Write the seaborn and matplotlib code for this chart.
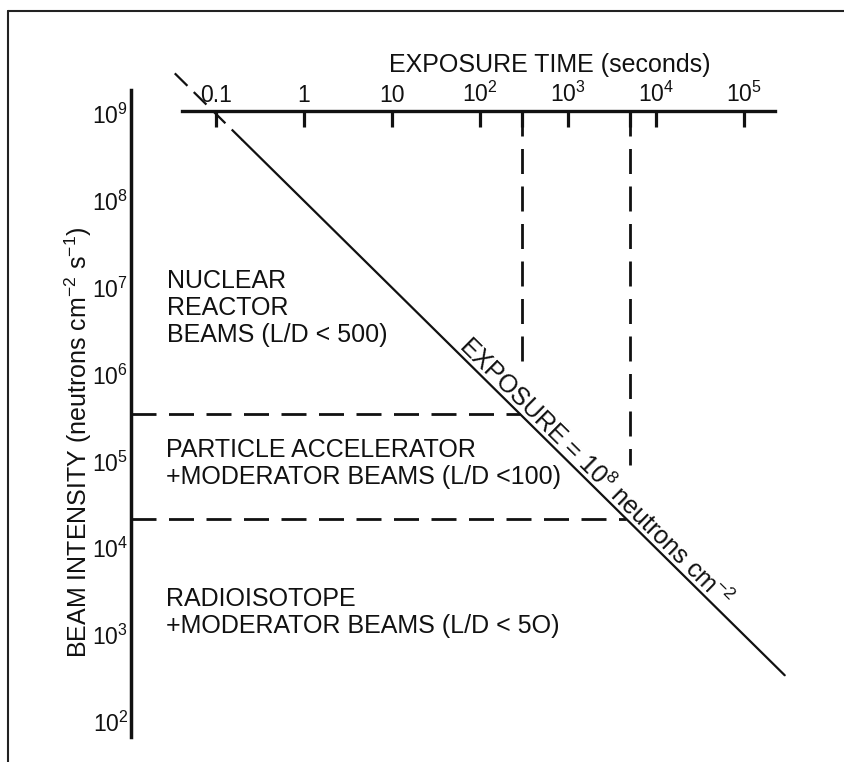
import math
import matplotlib
matplotlib.use("Agg")
import matplotlib.pyplot as plt
from matplotlib.lines import Line2D
from matplotlib.ticker import FixedLocator, FixedFormatter, NullLocator, NullFormatter
from matplotlib import font_manager
import numpy as np
import pandas as pd
import seaborn as sns

# ---------------- data ----------------
line_time_solid = [0.2, 2.9e5]            # seconds
line_intensity_solid = [5.0e8, 3.45e2]    # neutrons cm^-2 s^-1  (exposure 1e8)
line_time_dashed = [0.034, 0.2]
line_intensity_dashed = [2.94e9, 5.0e8]
fluence = 1e8

boundary_intensities = [3.5e5, 2.2e4]     # horizontal dashed boundaries
boundary_times = [300, 5000]              # vertical dashed drop lines
vertical_dash_bottoms = [1.1e6, 9.0e4]

time_ticks = [0.1, 1, 10, 1e2, 1e3, 1e4, 1e5]
time_tick_labels = ["0.1", "1", "10",
                    r"$\mathregular{10^{2}}$", r"$\mathregular{10^{3}}$",
                    r"$\mathregular{10^{4}}$", r"$\mathregular{10^{5}}$"]
intensity_ticks = [1e2, 1e3, 1e4, 1e5, 1e6, 1e7, 1e8, 1e9]
intensity_tick_labels = [r"$\mathregular{10^{2}}$", r"$\mathregular{10^{3}}$",
                         r"$\mathregular{10^{4}}$", r"$\mathregular{10^{5}}$",
                         r"$\mathregular{10^{6}}$", r"$\mathregular{10^{7}}$",
                         r"$\mathregular{10^{8}}$", r"$\mathregular{10^{9}}$"]

region_labels = ["NUCLEAR\nREACTOR\nBEAMS (L/D < 500)",
                 "PARTICLE ACCELERATOR\n+MODERATOR BEAMS (L/D <100)",
                 "RADIOISOTOPE\n+MODERATOR BEAMS (L/D < 5O)"]
region_label_time = [0.0277, 0.0270, 0.0270]
region_label_intensity = [2.37e6, 5.5e4, 1.06e3]   # baseline of last line

top_axis_title = "EXPOSURE TIME (seconds)"
y_axis_title = r"BEAM INTENSITY (neutrons cm$\mathregular{^{-2}}$ s$\mathregular{^{-1}}$)"
exposure_label = r"EXPOSURE = $\mathregular{10^{8}}$ neutrons cm$\mathregular{^{-2}}$"

# ---------------- style ----------------
sns.set_theme(style="white")
plt.rcParams["font.family"] = ["Liberation Sans", "DejaVu Sans"]
plt.rcParams["mathtext.fontset"] = "custom"
plt.rcParams["mathtext.rm"] = "Liberation Sans"
plt.rcParams["mathtext.it"] = "Liberation Sans"
plt.rcParams["mathtext.bf"] = "Liberation Sans"

try:
    font_manager.findfont("Liberation Sans Narrow", fallback_to_default=False)
    narrow = ["Liberation Sans Narrow", "Liberation Sans"]
except Exception:
    narrow = ["Liberation Sans", "DejaVu Sans"]

INK = "#111111"
W, H = 845, 762


def fx(px):
    return px / W


def fy(py):
    return 1 - py / H


fig = plt.figure(figsize=(W / 100, H / 100), dpi=100)
fig.patch.set_facecolor("white")

# main axes (log time vs log intensity)
ax = fig.add_axes([fx(131), fy(737), (800 - 131) / W, (737 - 60) / H])
ax.set_xscale("log")
ax.set_yscale("log")
ax.set_facecolor("none")

# diagonal exposure line
sns.lineplot(x=line_time_solid, y=line_intensity_solid, ax=ax,
             color=INK, linewidth=1.6)
ax.plot(line_time_dashed, line_intensity_dashed, color=INK, linewidth=1.6,
        dashes=(8, 4), solid_capstyle="butt", dash_capstyle="butt")

xlim = (10 ** -1.966, 10 ** 5.636)
ylim = (10 ** 1.827, 10 ** 9.622)
top_axis_level = 10 ** 9.034

# horizontal boundary lines
for inten in boundary_intensities:
    ax.plot([xlim[0], fluence / inten], [inten, inten], color=INK,
            linewidth=2.0, dashes=(9, 4.5), dash_capstyle="butt")
# vertical drop lines
for t, bottom in zip(boundary_times, vertical_dash_bottoms):
    ax.plot([t, t], [top_axis_level, bottom], color=INK,
            linewidth=2.0, dashes=(9, 4.5), dash_capstyle="butt")

ax.set_xlim(*xlim)
ax.set_ylim(*ylim)

for s in ("top", "right", "bottom"):
    ax.spines[s].set_visible(False)
ax.spines["left"].set_color(INK)
ax.spines["left"].set_linewidth(2.5)
ax.spines["left"].set_bounds(ylim[0], 10 ** 9.276)

ax.yaxis.set_major_locator(FixedLocator(intensity_ticks))
ax.yaxis.set_major_formatter(FixedFormatter(intensity_tick_labels))
ax.yaxis.set_minor_locator(NullLocator())
ax.tick_params(axis="y", which="major", direction="in", length=10.8,
               width=2.3, color=INK, pad=2, labelsize=16.5,
               labelcolor=INK, labelfontfamily=narrow)
ax.tick_params(axis="x", which="both", bottom=False, top=False,
               labelbottom=False, labeltop=False)
ax.set_xlabel("")
ax.set_ylabel("")

# top time axis
tax = fig.add_axes([fx(131), fy(111), (800 - 131) / W, 0.0001])
tax.set_xscale("log")
tax.set_xlim(*xlim)
tax.set_facecolor("none")
for s in ("left", "right", "bottom"):
    tax.spines[s].set_visible(False)
tax.spines["top"].set_color(INK)
tax.spines["top"].set_linewidth(2.4)
tax.spines["top"].set_bounds(10 ** -1.386, 10 ** 5.352)
tax.yaxis.set_visible(False)
tax.xaxis.set_ticks_position("top")
tax.xaxis.set_major_locator(FixedLocator(time_ticks))
tax.xaxis.set_major_formatter(FixedFormatter(time_tick_labels))
tax.xaxis.set_minor_locator(FixedLocator(boundary_times))
tax.xaxis.set_minor_formatter(NullFormatter())
tax.tick_params(axis="x", which="both", direction="in", length=11.5,
                width=2.3, color=INK, top=True, bottom=False,
                labeltop=True, labelbottom=False, pad=3,
                labelsize=16.5, labelcolor=INK, labelfontfamily=narrow)

# titles
fig.text(fx(550), fy(72), top_axis_title, ha="center", va="baseline",
         fontsize=18, color=INK)
fig.text(fx(78), fy(442), y_axis_title, rotation=90, ha="center",
         va="center", fontsize=18, color=INK)

# region labels
for lab, t, inten in zip(region_labels, region_label_time, region_label_intensity):
    ax.text(t, inten, lab, ha="left", va="baseline", fontsize=18,
            color=INK, linespacing=1.17)

# rotated line label
p1 = ax.transData.transform((1.0, 1e8))
p2 = ax.transData.transform((1e4, 1e4))
angle = math.degrees(math.atan2(p2[1] - p1[1], p2[0] - p1[0]))
ax.annotate(exposure_label, xy=(10 ** 3.22, 10 ** 4.78), xytext=(1.9, 1.9),
            textcoords="offset points", rotation=angle,
            rotation_mode="anchor", ha="center", va="baseline",
            fontsize=18, color=INK)

# outer frame (left and top edges visible)
fig.add_artist(Line2D([fx(8.5), fx(8.5)], [fy(10.7), 0],
                      transform=fig.transFigure, color="#222222", lw=1.5))
fig.add_artist(Line2D([fx(8.5), 1], [fy(10.7), fy(10.7)],
                      transform=fig.transFigure, color="#222222", lw=1.5))

fig.savefig("out.png", dpi=100, facecolor="white")
